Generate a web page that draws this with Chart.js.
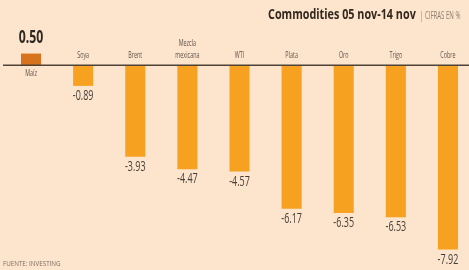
<!DOCTYPE html>
<html><head><meta charset="utf-8">
<script src="https://cdn.jsdelivr.net/npm/chart.js@4"></script>
<style>
html,body{margin:0;padding:0;background:#fde5cd;overflow:hidden;width:469px;height:270px}
canvas{display:block}
</style></head>
<body>
<canvas id="c" width="479" height="270"></canvas>
<script>
const categories = [['Maíz'], ['Soya'], ['Brent'], ['Mezcla', 'mexicana'], ['WTI'], ['Plata'], ['Oro'], ['Trigo'], ['Cobre']];
const values = [0.50, -0.89, -3.93, -4.47, -4.57, -6.17, -6.35, -6.53, -7.92];
const titleText = 'Commodities 05 nov-14 nov';
const subtitleText = '| CIFRAS EN %';
const sourceText = 'FUENTE: INVESTING';

const FONT = '"Open Sans", "Noto Sans", sans-serif';

function drawCond(ctx, text, x, y, size, weight, sx, color, align) {
  ctx.save();
  ctx.font = weight + ' ' + size + 'px ' + FONT;
  ctx.fillStyle = color;
  ctx.textBaseline = 'middle';
  ctx.textAlign = align || 'center';
  ctx.translate(x, y);
  ctx.scale(sx, 1);
  ctx.fillText(text, 0, 0);
  ctx.restore();
}

const labelPlugin = {
  id: 'labels',
  afterDatasetsDraw(chart) {
    const ctx = chart.ctx;
    const ys = chart.scales.y;
    const zeroY = ys.getPixelForValue(0);
    ctx.save();
    ctx.strokeStyle = '#4f4236';
    ctx.lineWidth = 1.5;
    ctx.beginPath();
    ctx.moveTo(3, zeroY);
    ctx.lineTo(chart.width, zeroY);
    ctx.stroke();
    ctx.restore();

    const meta = chart.getDatasetMeta(0);
    meta.data.forEach((bar, i) => {
      const v = values[i];
      const x = bar.x;
      const txt = v.toFixed(2);
      const lines = categories[i];
      if (v >= 0) {
        drawCond(ctx, txt, x, bar.y - 16, 18, 'bold', 0.68, '#2e2620');
        drawCond(ctx, lines[0], x, zeroY + 8, 9, 'normal', 0.6, '#5e524a');
      } else {
        drawCond(ctx, txt, x, bar.y + 10, 15, 'normal', 0.6, '#463d38');
        const n = lines.length;
        lines.forEach((ln, k) => {
          drawCond(ctx, ln, x, zeroY - 10 - (n - 1 - k) * 12, 9, 'normal', 0.6, '#5e524a');
        });
      }
    });

    drawCond(ctx, titleText, 268, 15, 15, 'bold', 0.72, '#33271d', 'left');
    drawCond(ctx, subtitleText, 420, 16, 11, 'normal', 0.55, '#8d7c6c', 'left');
    drawCond(ctx, sourceText, 3, 264, 8, 'normal', 0.78, '#7a6c62', 'left');
  }
};

new Chart(document.getElementById('c'), {
  type: 'bar',
  data: {
    labels: categories,
    datasets: [{
      data: values,
      backgroundColor: values.map(v => v >= 0 ? '#d7721f' : '#f6a11f'),
      borderWidth: 0,
      categoryPercentage: 1,
      barPercentage: 0.385
    }]
  },
  options: {
    responsive: false,
    animation: false,
    devicePixelRatio: 1,
    layout: { padding: { top: 7, bottom: 7, left: 5, right: 5 } },
    plugins: { legend: { display: false }, tooltip: { enabled: false }, title: { display: false } },
    scales: {
      x: { display: false },
      y: { display: false, min: -8.5, max: 2.5 }
    }
  },
  plugins: [labelPlugin]
});
</script>
</body></html>
